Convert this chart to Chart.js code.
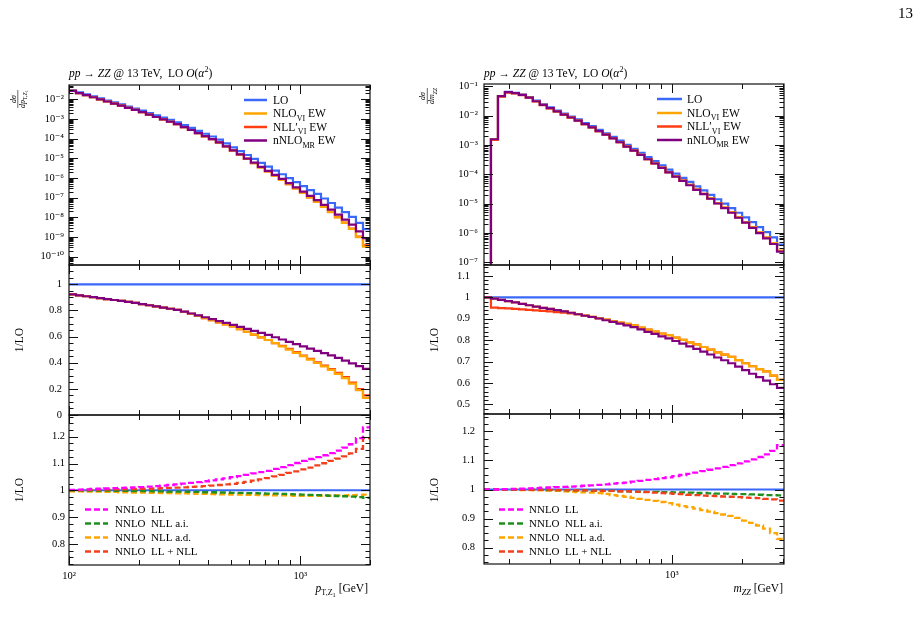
<!DOCTYPE html>
<html><head><meta charset="utf-8">
<script src="https://cdn.jsdelivr.net/npm/chart.js@4.4.1/dist/chart.umd.min.js"></script>
<style>
html,body{margin:0;padding:0;background:#fff;}
#wrap{position:relative;width:919px;height:618px;overflow:hidden;background:#fff;}
#wrap canvas{position:absolute;left:0;top:0;}
</style></head>
<body><div id="wrap">
<canvas id="c1" width="919" height="618"></canvas>
<canvas id="c2" width="919" height="618"></canvas>
<canvas id="c3" width="919" height="618"></canvas>
<canvas id="c4" width="919" height="618"></canvas>
<canvas id="c5" width="919" height="618"></canvas>
<canvas id="c6" width="919" height="618"></canvas>
</div>
<script>
// ---------- bin edges (categories) ----------
const ptEdges = [100,107.2,114.9,123.2,132.1,141.6,151.9,162.8,174.6,187.1,200.6,215.1,230.6,247.3,265.1,284.2,304.7,326.7,350.2,375.5,402.6,431.6,462.7,496.1,531.9,570.2,611.4,655.5,702.7,753.4,807.8,866.0,928.5,996.4,1068,1145,1228,1316,1411,1513,1622,1739,1865,2000];
const mzzEdges = [156.0,167.1,179.1,191.9,205.6,220.3,236.0,252.9,270.9,290.3,311.0,333.3,357.1,382.6,410.0,439.2,470.6,504.2,540.2,578.8,620.2,664.5,711.9,762.8,817.3,875.6,938.2,1004.8,1076.6,1153.5,1235.9,1324.1,1418.7,1520.1,1628.6,1744.9,1869.6,2003.1,2146.2,2299.5,2463.8,2639.7,2828.2,3030];

// ---------- pT,Z1 : differential cross sections ----------
const ptLO   = [2.88e-2,2.24e-2,1.78e-2,1.41e-2,1.12e-2,8.71e-3,6.92e-3,5.50e-3,4.27e-3,3.39e-3,2.63e-3,2.00e-3,1.51e-3,1.17e-3,8.91e-4,6.76e-4,4.90e-4,3.55e-4,2.51e-4,1.78e-4,1.29e-4,8.91e-5,5.75e-5,3.63e-5,2.34e-5,1.48e-5,9.33e-6,5.89e-6,3.80e-6,2.40e-6,1.55e-6,9.77e-7,6.17e-7,3.89e-7,2.45e-7,1.55e-7,9.12e-8,5.37e-8,3.16e-8,1.86e-8,1.07e-8,5.25e-9,2.51e-9];
const ptNLO  = [2.66e-2,2.05e-2,1.62e-2,1.27e-2,1.00e-2,7.73e-3,6.08e-3,4.80e-3,3.70e-3,2.90e-3,2.23e-3,1.67e-3,1.26e-3,9.66e-4,7.24e-4,5.43e-4,3.86e-4,2.75e-4,1.91e-4,1.32e-4,9.35e-5,6.32e-5,3.99e-5,2.46e-5,1.54e-5,9.40e-6,5.74e-6,3.50e-6,2.18e-6,1.32e-6,8.13e-7,4.90e-7,2.94e-7,1.75e-7,1.04e-7,6.17e-8,3.40e-8,1.86e-8,9.95e-9,5.25e-9,2.57e-9,9.98e-10,3.27e-10];
const ptNLL  = [2.66e-2,2.05e-2,1.62e-2,1.27e-2,1.00e-2,7.73e-3,6.08e-3,4.80e-3,3.70e-3,2.90e-3,2.23e-3,1.67e-3,1.26e-3,9.66e-4,7.24e-4,5.43e-4,3.86e-4,2.75e-4,1.91e-4,1.32e-4,9.35e-5,6.32e-5,3.99e-5,2.46e-5,1.54e-5,9.40e-6,5.74e-6,3.50e-6,2.18e-6,1.32e-6,8.21e-7,4.95e-7,2.97e-7,1.77e-7,1.05e-7,6.25e-8,3.45e-8,1.89e-8,1.02e-8,5.40e-9,2.65e-9,1.04e-9,3.77e-10];
const ptMR   = [2.66e-2,2.05e-2,1.62e-2,1.27e-2,1.00e-2,7.73e-3,6.08e-3,4.80e-3,3.70e-3,2.90e-3,2.23e-3,1.67e-3,1.26e-3,9.66e-4,7.24e-4,5.43e-4,3.87e-4,2.75e-4,1.91e-4,1.33e-4,9.46e-5,6.41e-5,4.06e-5,2.51e-5,1.58e-5,9.75e-6,6.01e-6,3.70e-6,2.33e-6,1.43e-6,8.95e-7,5.47e-7,3.35e-7,2.04e-7,1.25e-7,7.60e-8,4.33e-8,2.45e-8,1.38e-8,7.74e-9,4.24e-9,1.96e-9,8.87e-10];
// ratios to LO
const ptRatioLO  = [1,1,1,1,1,1,1,1,1,1,1,1,1,1,1,1,1,1,1,1,1,1,1,1,1,1,1,1,1,1,1,1,1,1,1,1,1,1,1,1,1,1,1];
const ptRatioNLO = [0.923,0.916,0.909,0.902,0.895,0.887,0.880,0.873,0.866,0.858,0.849,0.840,0.831,0.822,0.813,0.804,0.789,0.774,0.758,0.742,0.726,0.709,0.693,0.678,0.657,0.636,0.615,0.594,0.574,0.550,0.525,0.501,0.476,0.450,0.424,0.398,0.372,0.346,0.315,0.282,0.240,0.190,0.130];
const ptRatioNLL = [0.923,0.916,0.909,0.902,0.895,0.887,0.880,0.873,0.866,0.858,0.849,0.840,0.831,0.822,0.813,0.804,0.789,0.774,0.758,0.742,0.726,0.709,0.693,0.678,0.657,0.636,0.615,0.594,0.574,0.550,0.530,0.506,0.481,0.455,0.429,0.403,0.378,0.352,0.322,0.290,0.248,0.198,0.150];
const ptRatioMR  = [0.923,0.916,0.909,0.902,0.895,0.887,0.880,0.873,0.866,0.858,0.849,0.840,0.831,0.822,0.813,0.804,0.791,0.777,0.762,0.748,0.734,0.719,0.705,0.690,0.675,0.659,0.644,0.628,0.613,0.595,0.578,0.560,0.543,0.525,0.508,0.491,0.474,0.457,0.437,0.416,0.395,0.374,0.353];
// NNLO ratios
const ptLL     = [1.002,1.003,1.004,1.005,1.006,1.007,1.008,1.009,1.010,1.011,1.012,1.014,1.016,1.018,1.020,1.022,1.025,1.028,1.031,1.034,1.037,1.041,1.045,1.049,1.053,1.058,1.063,1.068,1.073,1.080,1.087,1.094,1.102,1.110,1.117,1.124,1.131,1.139,1.148,1.159,1.172,1.195,1.235];
const ptNLLai  = [1.000,1.000,0.999,0.999,0.999,0.999,0.998,0.998,0.998,0.997,0.997,0.997,0.996,0.996,0.995,0.995,0.995,0.994,0.994,0.993,0.993,0.992,0.992,0.991,0.991,0.990,0.990,0.989,0.988,0.988,0.987,0.986,0.985,0.984,0.983,0.982,0.981,0.980,0.979,0.978,0.977,0.975,0.972];
const ptNLLad  = [0.996,0.996,0.995,0.995,0.995,0.994,0.994,0.993,0.993,0.992,0.992,0.991,0.991,0.990,0.990,0.989,0.989,0.988,0.987,0.987,0.986,0.985,0.985,0.984,0.984,0.983,0.983,0.982,0.982,0.981,0.981,0.981,0.980,0.980,0.980,0.980,0.980,0.980,0.981,0.981,0.982,0.983,0.984];
const ptLLNLL  = [1.001,1.001,1.002,1.002,1.003,1.003,1.004,1.004,1.005,1.005,1.006,1.006,1.007,1.008,1.009,1.010,1.011,1.013,1.014,1.016,1.018,1.020,1.022,1.024,1.028,1.032,1.036,1.041,1.046,1.052,1.058,1.065,1.071,1.078,1.085,1.093,1.101,1.110,1.118,1.127,1.138,1.155,1.195];

// ---------- mZZ : differential cross sections ----------
const mzzLO  = [1e-10,1.58e-3,4.68e-2,6.46e-2,6.03e-2,5.25e-2,4.27e-2,3.24e-2,2.45e-2,1.91e-2,1.48e-2,1.17e-2,9.33e-3,7.41e-3,5.62e-3,4.37e-3,3.31e-3,2.51e-3,1.91e-3,1.41e-3,1.02e-3,7.41e-4,5.37e-4,3.89e-4,2.82e-4,2.04e-4,1.45e-4,1.05e-4,7.59e-5,5.50e-5,3.89e-5,2.82e-5,2.00e-5,1.41e-5,1.00e-5,7.08e-6,4.90e-6,3.39e-6,2.34e-6,1.58e-6,1.07e-6,7.08e-7,3.98e-7];
const mzzNLO = [1e-10,1.57e-3,4.62e-2,6.34e-2,5.89e-2,5.09e-2,4.11e-2,3.10e-2,2.33e-2,1.81e-2,1.39e-2,1.09e-2,8.66e-3,6.82e-3,5.14e-3,3.97e-3,2.99e-3,2.25e-3,1.70e-3,1.24e-3,8.94e-4,6.44e-4,4.61e-4,3.30e-4,2.37e-4,1.70e-4,1.19e-4,8.53e-5,6.08e-5,4.35e-5,3.03e-5,2.17e-5,1.51e-5,1.05e-5,7.32e-6,5.11e-6,3.46e-6,2.35e-6,1.59e-6,1.05e-6,7.00e-7,4.49e-7,2.44e-7];
const mzzNLL = [1e-10,1.50e-3,4.45e-2,6.12e-2,5.70e-2,4.96e-2,4.02e-2,3.04e-2,2.30e-2,1.78e-2,1.38e-2,1.09e-2,8.63e-3,6.82e-3,5.14e-3,3.97e-3,2.99e-3,2.25e-3,1.70e-3,1.24e-3,8.94e-4,6.44e-4,4.61e-4,3.30e-4,2.37e-4,1.70e-4,1.19e-4,8.53e-5,6.08e-5,4.35e-5,3.03e-5,2.17e-5,1.51e-5,1.05e-5,7.32e-6,5.11e-6,3.46e-6,2.35e-6,1.59e-6,1.05e-6,7.00e-7,4.49e-7,2.44e-7];
const mzzMR  = [1e-10,1.57e-3,4.62e-2,6.34e-2,5.89e-2,5.09e-2,4.11e-2,3.10e-2,2.33e-2,1.81e-2,1.39e-2,1.09e-2,8.66e-3,6.82e-3,5.14e-3,3.97e-3,2.98e-3,2.24e-3,1.69e-3,1.24e-3,8.86e-4,6.38e-4,4.56e-4,3.26e-4,2.34e-4,1.67e-4,1.17e-4,8.36e-5,5.95e-5,4.24e-5,2.95e-5,2.10e-5,1.47e-5,1.01e-5,7.06e-6,4.90e-6,3.31e-6,2.24e-6,1.50e-6,9.91e-7,6.54e-7,4.21e-7,2.30e-7];
const mzzRatioLO  = [1,1,1,1,1,1,1,1,1,1,1,1,1,1,1,1,1,1,1,1,1,1,1,1,1,1,1,1,1,1,1,1,1,1,1,1,1,1,1,1,1,1,1];
const mzzRatioNLO = [1.000,0.994,0.988,0.982,0.976,0.969,0.963,0.957,0.951,0.946,0.940,0.934,0.928,0.921,0.915,0.909,0.903,0.896,0.889,0.882,0.876,0.869,0.859,0.849,0.840,0.831,0.823,0.812,0.801,0.790,0.780,0.768,0.756,0.743,0.732,0.722,0.707,0.692,0.678,0.665,0.654,0.634,0.614];
const mzzRatioNLL = [1.000,0.952,0.950,0.948,0.946,0.944,0.941,0.939,0.937,0.934,0.931,0.928,0.925,0.921,0.915,0.909,0.903,0.896,0.889,0.882,0.876,0.869,0.859,0.849,0.840,0.831,0.823,0.812,0.801,0.790,0.780,0.768,0.756,0.743,0.732,0.722,0.707,0.692,0.678,0.665,0.654,0.634,0.614];
const mzzRatioMR  = [1.000,0.994,0.988,0.982,0.976,0.969,0.963,0.957,0.951,0.946,0.940,0.934,0.928,0.921,0.914,0.908,0.901,0.893,0.885,0.877,0.869,0.861,0.850,0.839,0.829,0.818,0.808,0.796,0.784,0.771,0.759,0.746,0.733,0.719,0.706,0.692,0.676,0.660,0.643,0.627,0.611,0.594,0.577];
const mzzLL    = [1.000,1.000,1.001,1.001,1.002,1.003,1.004,1.005,1.006,1.007,1.008,1.009,1.010,1.011,1.013,1.014,1.016,1.018,1.020,1.022,1.024,1.027,1.030,1.033,1.036,1.039,1.042,1.046,1.050,1.054,1.058,1.063,1.068,1.073,1.078,1.084,1.090,1.097,1.104,1.112,1.121,1.133,1.153];
const mzzNLLai = [1.000,1.000,1.000,1.000,0.999,0.999,0.999,0.999,0.999,0.998,0.998,0.998,0.997,0.997,0.997,0.996,0.996,0.995,0.995,0.994,0.994,0.993,0.993,0.992,0.992,0.991,0.991,0.990,0.990,0.989,0.988,0.988,0.987,0.986,0.986,0.985,0.984,0.984,0.983,0.982,0.981,0.981,0.980];
const mzzNLLad = [1.000,1.000,1.000,0.999,0.999,0.998,0.998,0.997,0.997,0.996,0.995,0.994,0.993,0.991,0.990,0.989,0.988,0.985,0.981,0.978,0.975,0.971,0.968,0.964,0.961,0.957,0.953,0.948,0.943,0.939,0.934,0.929,0.924,0.919,0.914,0.909,0.902,0.893,0.885,0.876,0.865,0.850,0.830];
const mzzLLNLL = [1.000,1.000,1.000,1.000,1.000,0.999,0.999,0.999,0.999,0.999,0.998,0.998,0.998,0.997,0.997,0.996,0.996,0.995,0.995,0.994,0.994,0.993,0.992,0.991,0.989,0.988,0.987,0.985,0.984,0.982,0.981,0.979,0.978,0.977,0.976,0.975,0.974,0.972,0.971,0.970,0.968,0.966,0.962];

// ---------- tick labels ----------
const ptTopTicks   = [1e-10,1e-9,1e-8,1e-7,1e-6,1e-5,1e-4,1e-3,1e-2];
const ptTopLabels  = ['10⁻¹⁰','10⁻⁹','10⁻⁸','10⁻⁷','10⁻⁶','10⁻⁵','10⁻⁴','10⁻³','10⁻²'];
const mzzTopTicks  = [1e-7,1e-6,1e-5,1e-4,1e-3,1e-2,1e-1];
const mzzTopLabels = ['10⁻⁷','10⁻⁶','10⁻⁵','10⁻⁴','10⁻³','10⁻²','10⁻¹'];
const ptMidTicks   = [0,0.2,0.4,0.6,0.8,1];
const ptMidLabels  = ['0','0.2','0.4','0.6','0.8','1'];
const mzzMidTicks  = [0.5,0.6,0.7,0.8,0.9,1,1.1];
const mzzMidLabels = ['0.5','0.6','0.7','0.8','0.9','1','1.1'];
const lowTicks     = [0.8,0.9,1,1.1,1.2];
const lowLabels    = ['0.8','0.9','1','1.1','1.2'];
const ptXTicks     = [100,1000];
const ptXLabels    = ['10²','10³'];
const mzzXTicks    = [1000];
const mzzXLabels   = ['10³'];

// ---------- styles ----------
const FONT = '"Liberation Serif","DejaVu Serif",serif';
const C = {lo:'#3a68f8', nlo:'#ffa500', nll:'#ff3d12', mr:'#800080',
           ll:'#ff00ff', ai:'#1f8f1f', ad:'#ffa500', llnll:'#f2401c'};
const W = 919, H = 618;

function steps(edges, vals){
  const pts = vals.map((v,i)=>({x:edges[i], y:v}));
  pts.push({x:edges[edges.length-1], y:vals[vals.length-1]});
  return pts;
}
function ds(edges, vals, color, order, extra){
  return Object.assign({data:steps(edges, vals), borderColor:color, borderWidth:2.2, stepped:true,
    pointRadius:0, fill:false, order:order}, extra||{});
}
function rich(ctx, x, y, segs, size, align){
  const parts = segs.map(s=>{
    let sz=size, dy=0;
    if(s.sub){sz=size*0.7; dy=size*0.28;}
    if(s.sup){sz=size*0.7; dy=-size*0.42;}
    if(s.sub2){sz=size*0.55; dy=size*0.45;}
    const font=(s.i?'italic ':'')+sz+'px '+FONT;
    ctx.font=font;
    return {t:s.t, font, dy, w:ctx.measureText(s.t).width};
  });
  const tot = parts.reduce((a,p)=>a+p.w,0);
  let cx = align==='right'? x-tot : align==='center'? x-tot/2 : x;
  ctx.textAlign='left'; ctx.textBaseline='alphabetic';
  for(const p of parts){ctx.font=p.font; ctx.fillText(p.t,cx,y+p.dy); cx+=p.w;}
  return tot;
}
function minorLog(lo, hi){
  const out=[];
  for(let e=-12;e<=0;e++) for(let k=2;k<=9;k++){const v=k*Math.pow(10,e); if(v>lo && v<hi) out.push(v);}
  return out;
}
function minorLin(lo, hi, step){
  const out=[]; const n0=Math.ceil(lo/step-1e-9), n1=Math.floor(hi/step+1e-9);
  for(let n=n0;n<=n1;n++) out.push(+(n*step).toFixed(4));
  return out;
}
function framePlugin(spec){
  return {id:'frameTicks', afterDatasetsDraw(chart){
    const ctx=chart.ctx, a=chart.chartArea, xs=chart.scales.x, ys=chart.scales.y;
    ctx.save(); ctx.strokeStyle='#111'; ctx.lineWidth=1;
    ctx.beginPath();
    const xt=(vals,len)=>vals.forEach(v=>{const p=Math.round(xs.getPixelForValue(v))+0.5;
      if(p<a.left-1||p>a.right+1) return;
      ctx.moveTo(p,a.bottom); ctx.lineTo(p,a.bottom-len); ctx.moveTo(p,a.top); ctx.lineTo(p,a.top+len);});
    const yt=(vals,len)=>vals.forEach(v=>{const p=Math.round(ys.getPixelForValue(v))+0.5;
      if(p<a.top-1||p>a.bottom+1) return;
      ctx.moveTo(a.left,p); ctx.lineTo(a.left+len,p); ctx.moveTo(a.right,p); ctx.lineTo(a.right-len,p);});
    xt(spec.xMajor,9); xt(spec.xMinor,5); yt(spec.yMajor,9); yt(spec.yMinor,4.5);
    ctx.stroke();
    ctx.lineWidth=1.2;
    ctx.strokeRect(a.left, a.top, a.right-a.left, a.bottom-a.top);
    ctx.restore();
  }};
}
function decoPlugin(fn){ return {id:'deco', afterDraw(chart){ const ctx=chart.ctx; ctx.save(); ctx.fillStyle='#000'; ctx.strokeStyle='#000'; fn(ctx, chart); ctx.restore(); }}; }

function drawLegend(ctx, x0, x1, tx, rows, items, dashed, size){
  items.forEach((it,i)=>{
    const y=rows[i];
    ctx.save(); ctx.strokeStyle=it.c; ctx.lineWidth=2.5;
    if(dashed) ctx.setLineDash([6,3]);
    ctx.beginPath(); ctx.moveTo(x0,y); ctx.lineTo(x1,y); ctx.stroke(); ctx.restore();
    ctx.fillStyle='#000';
    rich(ctx, tx, y+3.8, it.segs, size, 'left');
  });
}
function fracLabel(ctx, cx, cy, num, den, size){
  ctx.save(); ctx.translate(cx,cy); ctx.rotate(-Math.PI/2);
  rich(ctx,0,-1.8,num,size,'center');
  const wd=rich(ctx,0,size*0.92,den,size,'center');
  ctx.lineWidth=0.6; ctx.beginPath(); ctx.moveTo(-wd/2,0.3); ctx.lineTo(wd/2,0.3); ctx.stroke();
  ctx.restore();
}
function rotText(ctx, x, y, segs, size){
  ctx.save(); ctx.translate(x,y); ctx.rotate(-Math.PI/2); rich(ctx,0,0,segs,size,'center'); ctx.restore();
}
function title(ctx, x, y){
  rich(ctx,x,y,[{t:'pp',i:true},{t:' → '},{t:'ZZ',i:true},{t:' @ 13 TeV,  LO '},{t:'O',i:true},{t:'('},{t:'α',i:true},{t:'2',sup:true},{t:')'}],11.5,'left');
}

function panel(id, box, xr, xTicks, xLabels, xMinor, ytype, yr, yTicks, yLabels, yMinor, yPad, datasets, deco){
  const yW=60, xH = xLabels ? 20 : 0;
  new Chart(document.getElementById(id), {
    type:'line',
    data:{datasets},
    options:{
      responsive:false, animation:false, events:[],
      layout:{padding:{left:box.L-yW, top:box.T, right:W-box.R, bottom:H-box.B-xH}},
      plugins:{legend:{display:false}, tooltip:{enabled:false}, title:{display:false}},
      scales:{
        x:{type:'logarithmic', min:xr[0], max:xr[1], display:!!xLabels,
           grid:{display:false, drawTicks:false}, border:{display:false},
           afterFit:s=>{s.height=xH;},
           afterBuildTicks:s=>{s.ticks=xTicks.map(v=>({value:v}));},
           ticks:{autoSkip:false, maxRotation:0, padding:5, color:'#000', font:{family:FONT,size:10.5},
                  callback:(v,i)=>xLabels? xLabels[i] : ''}},
        y:{type:ytype, min:yr[0], max:yr[1],
           grid:{display:false, drawTicks:false}, border:{display:false},
           afterFit:s=>{s.width=yW;},
           afterBuildTicks:s=>{s.ticks=yTicks.map(v=>({value:v}));},
           ticks:{autoSkip:false, padding:yPad, color:'#000', font:{family:FONT,size:10.5},
                  callback:(v,i)=>yLabels[i]}}
      }
    },
    plugins:[framePlugin({xMajor:xTicks, xMinor:xMinor, yMajor:yTicks, yMinor:yMinor}), decoPlugin(deco)]
  });
}

const ptXMinor=[200,300,400,500,600,700,800,900,2000];
const mzzXMinor=[200,300,400,500,600,700,800,900,2000,3000];
const topItems=[{c:C.lo,segs:[{t:'LO'}]},{c:C.nlo,segs:[{t:'NLO'},{t:'VI',sub:true},{t:' EW'}]},
                {c:C.nll,segs:[{t:'NLL′'},{t:'VI',sub:true},{t:' EW'}]},{c:C.mr,segs:[{t:'nNLO'},{t:'MR',sub:true},{t:' EW'}]}];
const lowItems=[{c:C.ll,segs:[{t:'NNLO  LL'}]},{c:C.ai,segs:[{t:'NNLO  NLL a.i.'}]},
                {c:C.ad,segs:[{t:'NNLO  NLL a.d.'}]},{c:C.llnll,segs:[{t:'NNLO  LL + NLL'}]}];
const dash={borderDash:[6,3], borderWidth:2.3};

// ---- left column (pT,Z1) ----
const ptRange=[100,2000];
panel('c1',{L:69,T:85,R:370,B:265}, ptRange, ptXTicks, null, ptXMinor, 'logarithmic',[3.8e-11,5.33e-2],
  ptTopTicks, ptTopLabels, minorLog(3.8e-11,5.33e-2), 5,
  [ds(ptEdges,ptLO,C.lo,3), ds(ptEdges,ptNLL,C.nll,2), ds(ptEdges,ptNLO,C.nlo,1), ds(ptEdges,ptMR,C.mr,0)],
  (ctx)=>{
    title(ctx,69,77);
    fracLabel(ctx,17.5,99,[{t:'dσ',i:true}],[{t:'dp',i:true},{t:'T,Z',sub:true},{t:'1',sub2:true}],8);
    drawLegend(ctx,244,267,273,[100,113.5,127,140.5],topItems,false,11.5);
    ctx.font='15px '+FONT; ctx.textAlign='right'; ctx.fillText('13',913,18);
  });
panel('c2',{L:69,T:265,R:370,B:415}, ptRange, ptXTicks, null, ptXMinor, 'linear',[0,1.148],
  ptMidTicks, ptMidLabels, minorLin(0,1.148,0.05), 7,
  [ds(ptEdges,ptRatioLO,C.lo,3), ds(ptEdges,ptRatioNLL,C.nll,2), ds(ptEdges,ptRatioNLO,C.nlo,1), ds(ptEdges,ptRatioMR,C.mr,0)],
  (ctx)=>{ rotText(ctx,23,340,[{t:'1/LO'}],11.5); });
panel('c3',{L:69,T:415,R:370,B:565}, ptRange, ptXTicks, ptXLabels, ptXMinor, 'linear',[0.7217,1.281],
  lowTicks, lowLabels, minorLin(0.7217,1.281,0.025), 4,
  [ds(ptEdges,ptRatioLO,C.lo,5,{borderWidth:2}), ds(ptEdges,ptNLLad,C.ad,4,dash), ds(ptEdges,ptNLLai,C.ai,3,dash),
   ds(ptEdges,ptLLNLL,C.llnll,2,dash), ds(ptEdges,ptLL,C.ll,1,dash)],
  (ctx)=>{
    rotText(ctx,23,490,[{t:'1/LO'}],11.5);
    drawLegend(ctx,85,108,115,[509.5,523.5,537.5,551.5],lowItems,true,11);
    rich(ctx,368,592,[{t:'p',i:true},{t:'T,Z',sub:true},{t:'1',sub2:true},{t:' [GeV]'}],11.5,'right');
  });

// ---- right column (mZZ) ----
const mzzRange=[156,3030];
panel('c4',{L:484,T:84,R:784,B:265}, mzzRange, mzzXTicks, null, mzzXMinor, 'logarithmic',[8.1e-8,0.12],
  mzzTopTicks, mzzTopLabels, minorLog(8.1e-8,0.12), 6,
  [ds(mzzEdges,mzzLO,C.lo,3), ds(mzzEdges,mzzNLL,C.nll,2), ds(mzzEdges,mzzNLO,C.nlo,1), ds(mzzEdges,mzzMR,C.mr,0)],
  (ctx)=>{
    title(ctx,484,77);
    fracLabel(ctx,427,96,[{t:'dσ',i:true}],[{t:'dm',i:true},{t:'ZZ',sub:true,i:true}],8);
    drawLegend(ctx,657,682,687,[99,113,126.5,140],topItems,false,11.5);
  });
panel('c5',{L:484,T:265,R:784,B:414}, mzzRange, mzzXTicks, null, mzzXMinor, 'linear',[0.455,1.151],
  mzzMidTicks, mzzMidLabels, minorLin(0.455,1.151,0.02), 14,
  [ds(mzzEdges,mzzRatioLO,C.lo,3), ds(mzzEdges,mzzRatioNLL,C.nll,2), ds(mzzEdges,mzzRatioNLO,C.nlo,1), ds(mzzEdges,mzzRatioMR,C.mr,0)],
  (ctx)=>{ rotText(ctx,438,340,[{t:'1/LO'}],11.5); });
panel('c6',{L:484,T:414,R:784,B:564}, mzzRange, mzzXTicks, mzzXLabels, mzzXMinor, 'linear',[0.7435,1.26],
  lowTicks, lowLabels, minorLin(0.7435,1.26,0.025), 9,
  [ds(mzzEdges,mzzRatioLO,C.lo,5,{borderWidth:2}), ds(mzzEdges,mzzNLLad,C.ad,4,dash), ds(mzzEdges,mzzNLLai,C.ai,3,dash),
   ds(mzzEdges,mzzLLNLL,C.llnll,2,dash), ds(mzzEdges,mzzLL,C.ll,1,dash)],
  (ctx)=>{
    rotText(ctx,438,490,[{t:'1/LO'}],11.5);
    drawLegend(ctx,499,523,529,[509.5,523.5,537.5,551.5],lowItems,true,11);
    rich(ctx,783,592,[{t:'m',i:true},{t:'ZZ',sub:true,i:true},{t:' [GeV]'}],11.5,'right');
  });
</script>
</body></html>
